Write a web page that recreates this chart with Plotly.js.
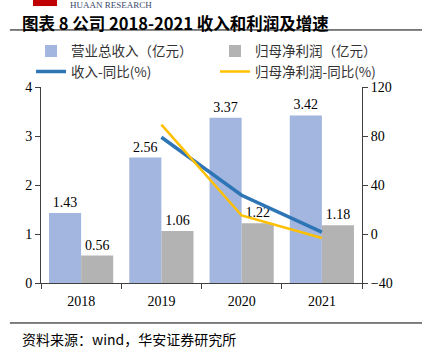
<!DOCTYPE html>
<html><head><meta charset="utf-8">
<script src="https://cdn.plot.ly/plotly-3.0.1.min.js"></script>
<style>html,body{margin:0;padding:0;background:#fff;}#chart{width:422px;height:355px;}</style>
</head><body><div id="chart"></div>
<script>
const years = ['2018', '2019', '2020', '2021'];
const revenue = [1.43, 2.56, 3.37, 3.42];
const profit = [0.56, 1.06, 1.22, 1.18];
const revGrowthYears = ['2019', '2020', '2021'];
const revGrowth = [79.0, 31.6, 1.5];
const profitGrowth = [89.3, 15.1, -3.3];
const revenueName = '营业总收入（亿元）';
const profitName = '归母净利润（亿元）';
const revGrowthName = '收入-同比(%)';
const profitGrowthName = '归母净利润-同比(%)';

const serif = 'Liberation Serif, Times New Roman, serif';
const cjk = 'Noto Sans CJK SC, sans-serif';

const traces = [
  {type:'bar', x:years, y:revenue, name:revenueName, marker:{color:'#A2B6E0'}, legend:'legend',
   text:revenue.map(v=>v.toFixed(2)), textposition:'outside', cliponaxis:false,
   textfont:{family:serif, size:14, color:'#000'}},
  {type:'bar', x:years, y:profit, name:profitName, marker:{color:'#B3B3B3'}, legend:'legend2',
   text:profit.map(v=>v.toFixed(2)), textposition:'outside', cliponaxis:false,
   textfont:{family:serif, size:14, color:'#000'}},
  {type:'scatter', mode:'lines', x:revGrowthYears, y:revGrowth, yaxis:'y2', name:revGrowthName, legend:'legend',
   line:{color:'#2E75B6', width:3.5}},
  {type:'scatter', mode:'lines', x:revGrowthYears, y:profitGrowth, yaxis:'y2', name:profitGrowthName, legend:'legend2',
   line:{color:'#FFC000', width:2.5}}
];

const legendCommon = {orientation:'v', xanchor:'left', yanchor:'top', xref:'paper', yref:'paper',
  tracegroupgap:0, traceorder:'normal', itemwidth:30, bgcolor:'rgba(0,0,0,0)',
  font:{family:cjk, size:13.5, color:'#333'}};

const layout = {
  width:422, height:355,
  margin:{l:41, r:60, t:87, b:72},
  paper_bgcolor:'#fff', plot_bgcolor:'#fff',
  barmode:'group', bargap:0.2, bargroupgap:0,
  showlegend:true,
  legend:Object.assign({}, legendCommon, {x:-0.031, y:1.262}),
  legend2:Object.assign({}, legendCommon, {x:0.542, y:1.262}),
  xaxis:{type:'category', showline:true, linecolor:'#404040', linewidth:1,
    ticks:'outside', tickson:'boundaries', ticklen:5, tickcolor:'#404040', ticklabelstandoff:5,
    tickfont:{family:serif, size:14, color:'#000'}, showgrid:false, zeroline:false},
  yaxis:{range:[0,4], dtick:1, showline:true, linecolor:'#404040', linewidth:1,
    ticks:'outside', ticklen:5, tickcolor:'#404040', showgrid:false, zeroline:false,
    tickfont:{family:serif, size:14, color:'#000'}},
  yaxis2:{overlaying:'y', side:'right', range:[-40,120], dtick:40, showline:true,
    linecolor:'#404040', linewidth:1, ticks:'outside', ticklen:5, tickcolor:'#404040',
    showgrid:false, zeroline:false, tickfont:{family:serif, size:14, color:'#000'}},
  shapes:[
    {type:'line', xref:'paper', yref:'paper', x0:-0.097, x1:1.19, y0:1.291, y1:1.291, line:{color:'#000', width:1}},
    {type:'line', xref:'paper', yref:'paper', x0:-0.097, x1:1.19, y0:-0.204, y1:-0.204, line:{color:'#000', width:1}},
    {type:'rect', xref:'paper', yref:'paper', x0:-0.025, x1:0.05, y0:1.413, y1:1.445, fillcolor:'#C00000', line:{width:0}}
  ],
  annotations:[
    {text:'<b>图表 8 公司 2018-2021 收入和利润及增速</b>', xref:'paper', yref:'paper', x:-0.065, y:1.326,
     xanchor:'left', yanchor:'middle', showarrow:false, font:{family:cjk, size:16.5, color:'#000'}},
    {text:'HUAAN RESEARCH', xref:'paper', yref:'paper', x:0.084, y:1.418, xanchor:'left', yanchor:'middle',
     showarrow:false, font:{family:serif, size:9, color:'#3A4A6A'}},
    {text:'资料来源：wind，华安证券研究所', xref:'paper', yref:'paper', x:-0.065, y:-0.225,
     xanchor:'left', yanchor:'top', showarrow:false, font:{family:cjk, size:14, color:'#000'}}
  ]
};

Plotly.newPlot('chart', traces, layout, {displayModeBar:false, staticPlot:true});
</script></body></html>
